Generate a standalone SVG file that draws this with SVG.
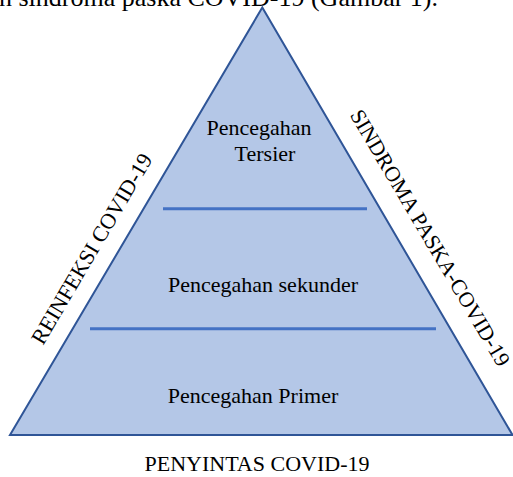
<svg xmlns="http://www.w3.org/2000/svg" width="513" height="477" viewBox="0 0 513 477">
<style>
text{font-family:"Liberation Serif","Times New Roman",serif;fill:#000;}
.lbl{font-size:22px;text-anchor:middle;}
.tri{fill:#B4C7E7;stroke:#2F5597;stroke-width:2;stroke-linejoin:miter;}
.div{stroke:#4472C4;stroke-width:3;fill:none;}
</style>
<rect width="513" height="477" fill="#fff"/>
<text x="-1" y="6" style="font-size:26px">n sindroma paska COVID-19 (Gambar 1).</text>
<g id="pyramid">
<polygon class="tri" points="262.3,7.5 10,435 512.5,435"/>
</g>
<g id="connectors">
<line class="div" x1="163" y1="208.7" x2="367" y2="208.7"/>
<line class="div" x1="90" y1="328.7" x2="436" y2="328.7"/>
</g>
<g id="tersier">
<text class="lbl" x="259" y="135">Pencegahan</text>
<text class="lbl" x="265" y="160.5">Tersier</text>
</g>
<g id="sekunder">
<text class="lbl" x="263" y="291.5">Pencegahan sekunder</text>
</g>
<g id="primer">
<text class="lbl" x="253" y="402.5">Pencegahan Primer</text>
</g>
<g id="reinfeksi">
<text class="lbl" transform="translate(98,252.5) rotate(-59.5)">REINFEKSI COVID-19</text>
</g>
<g id="sindroma">
<text class="lbl" transform="translate(424,241.5) rotate(59.5)" style="font-size:21.7px">SINDROMA PASKA-COVID-19</text>
</g>
<g id="penyintas">
<text class="lbl" x="257" y="470.5">PENYINTAS COVID-19</text>
</g>
</svg>
